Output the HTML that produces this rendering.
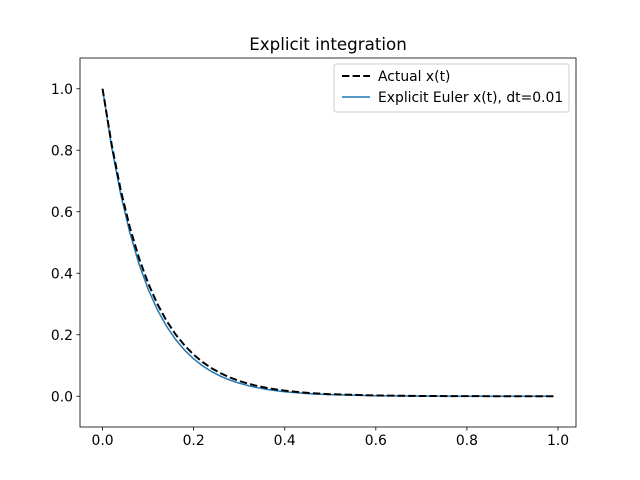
<!DOCTYPE html>
<html><head><meta charset="utf-8"><style>body{margin:0;background:#fff}svg{display:block;font-family:"DejaVu Sans","Liberation Sans",sans-serif}</style></head>
<body>
<svg id="c" width="640" height="480" xmlns="http://www.w3.org/2000/svg">
<rect x="0" y="0" width="640" height="480" fill="#fff"/>
<text x="328" y="50" font-size="16.7" text-anchor="middle">Explicit integration</text>
<g id="plot"></g>
<rect x="80" y="58" width="496" height="369" fill="none" stroke="#000" stroke-width="0.8"/>
<g>
<rect x="334" y="64" width="235" height="48" rx="2" fill="#fff" fill-opacity="0.8" stroke="#ccc"/>
<line x1="342" y1="76" x2="370" y2="76" stroke="#000" stroke-width="2" stroke-dasharray="7.4,3.2"/>
<text x="378" y="81" font-size="13.9">Actual x(t)</text>
<line x1="342" y1="97" x2="370" y2="97" stroke="#1f77b4" stroke-width="1.5"/>
<text x="378" y="102" font-size="13.9">Explicit Euler x(t), dt=0.01</text>
</g>
</svg>
<script>
const tVals=[0,0.02,0.04,0.06,0.08,0.10,0.12,0.14,0.16,0.18,0.20,0.22,0.24,0.26,0.28,0.30,0.32,0.34,0.36,0.38,0.40,0.42,0.44,0.46,0.48,0.50,0.6,0.7,0.8,0.9,0.99];
const actualVals=[1,0.8187,0.6703,0.5488,0.4493,0.3679,0.3012,0.2466,0.2019,0.1653,0.1353,0.1108,0.0907,0.0743,0.0608,0.0498,0.0408,0.0334,0.0273,0.0224,0.0183,0.0150,0.0123,0.0101,0.0082,0.0067,0.0025,0.0009,0.0003,0.0001,0.00005];
const eulerVals=[1,0.81,0.6561,0.5314,0.4305,0.3487,0.2824,0.2288,0.1853,0.1501,0.1216,0.0985,0.0798,0.0646,0.0523,0.0424,0.0343,0.0278,0.0225,0.0182,0.0148,0.0120,0.0097,0.0079,0.0064,0.0052,0.0018,0.0006,0.0002,0.00008,0.00003];
const xTicks=[0,0.2,0.4,0.6,0.8,1.0];
const xTickLabels=["0.0","0.2","0.4","0.6","0.8","1.0"];
const yTicks=[0,0.2,0.4,0.6,0.8,1.0];
const yTickLabels=["0.0","0.2","0.4","0.6","0.8","1.0"];
const NS="http://www.w3.org/2000/svg";
const X0=80,X1=576,Y0=427,Y1=58,xmin=-0.0495,xmax=1.0395,ymin=-0.1,ymax=1.1;
const sx=v=>X0+(v-xmin)/(xmax-xmin)*(X1-X0);
const sy=v=>Y0-(v-ymin)/(ymax-ymin)*(Y0-Y1);
const svg=document.getElementById('c'),plot=document.getElementById('plot');
function mk(tag,attrs,parent){const e=document.createElementNS(NS,tag);for(const k in attrs)e.setAttribute(k,attrs[k]);(parent||svg).appendChild(e);return e;}
xTicks.forEach((v,i)=>{
 const l=mk('line',{x1:sx(v),x2:sx(v),y1:Y0,y2:Y0+3.5,stroke:'#000','stroke-width':0.8});
 
 
 const t=mk('text',{x:sx(v),y:Y0+18,'font-size':13.9,'text-anchor':'middle'});t.textContent=xTickLabels[i];
 
 
});
yTicks.forEach((v,i)=>{
 const l=mk('line',{x1:X0-3.5,x2:X0,y1:sy(v),y2:sy(v),stroke:'#000','stroke-width':0.8});
 
 
 const t=mk('text',{x:X0-7,y:sy(v)+5,'font-size':13.9,'text-anchor':'end'});t.textContent=yTickLabels[i];
 
 
});
const pts=a=>tVals.map((t,i)=>sx(t).toFixed(2)+','+sy(a[i]).toFixed(2)).join(' ');
const e=mk('polyline',{points:pts(eulerVals),fill:'none',stroke:'#1f77b4','stroke-width':1.5},plot);


const a=mk('polyline',{points:pts(actualVals),fill:'none',stroke:'#000','stroke-width':2,'stroke-dasharray':'7.4,3.2'},plot);


</script>
</body></html>
